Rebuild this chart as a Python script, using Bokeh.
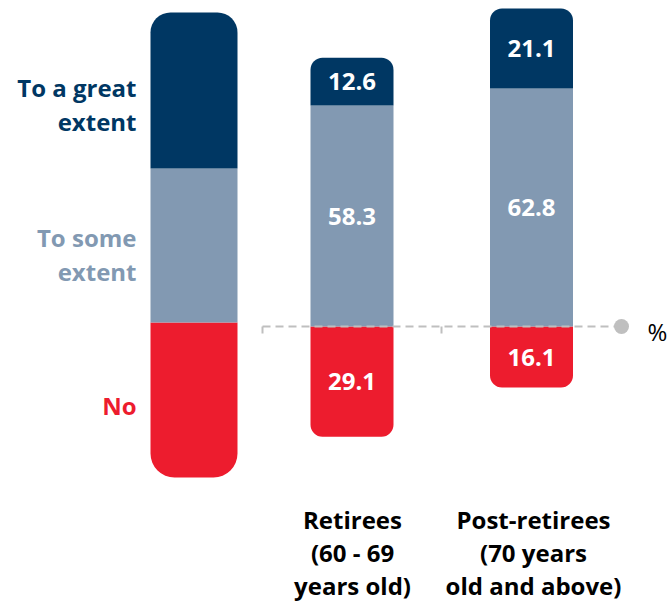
from bokeh.plotting import figure
from bokeh.models import Range1d, ColumnDataSource
from bokeh.core.properties import value
from bokeh.embed import file_html
from bokeh.resources import INLINE

# ---- data ----
categories = ["Retirees\n(60 - 69\nyears old)", "Post-retirees\n(70 years\nold and above)"]
great_extent = [12.6, 21.1]
some_extent = [58.3, 62.8]
no_answer = [29.1, 16.1]
legend_labels = ["To a great\nextent", "To some\nextent", "No"]

NAVY = "#003763"
GREY = "#8299B2"
RED = "#ED1C2E"
FONT = "Open Sans"
FS = "24px"

W, H = 669, 604
BASE_PX = 326.0   # pixel row of the zero line
PX_PER_UNIT = 3.79

def ydata(px):
    return (BASE_PX - px) / PX_PER_UNIT

p = figure(width=W, height=H, output_backend="svg", toolbar_location=None,
           x_range=Range1d(0, W), y_range=Range1d(ydata(H), ydata(0)),
           min_border=0)
p.axis.visible = False
p.grid.visible = False
p.outline_line_color = None
p.background_fill_color = "white"
p.border_fill_color = "white"

# ---- legend bar (decorative) ----
lx, lw = 193.5, 87
lb = [ydata(477), ydata(322), ydata(168), ydata(12)]
p.vbar(x=[lx], width=lw, bottom=[lb[0]], top=[lb[1]], fill_color=RED, line_color=None,
       border_radius=(0, 0, 24, 24))
p.vbar(x=[lx], width=lw, bottom=[lb[1]], top=[lb[2]], fill_color=GREY, line_color=None)
p.vbar(x=[lx], width=lw, bottom=[lb[2]], top=[lb[3]], fill_color=NAVY, line_color=None,
       border_radius=(20, 20, 0, 0))

# legend labels
leg_pos = [(ydata(87), ydata(121)), (ydata(237), ydata(271)), (ydata(405),)]
leg_cols = [NAVY, GREY, RED]
for lab, ys, col in zip(legend_labels, leg_pos, leg_cols):
    for line, yy in zip(lab.split("\n"), ys):
        p.text(x=[136], y=[yy], text=[line], text_color=col, text_font=value(FONT),
               text_font_style="bold", text_font_size=FS, text_align="right",
               text_baseline="middle")

# ---- bars ----
xs = [351.5, 531.0]
bw = 83
neg_bottom = [-v for v in no_answer]
some_top = some_extent
great_top = [a + b for a, b in zip(some_extent, great_extent)]

src = ColumnDataSource(dict(x=xs, nb=neg_bottom, zero=[0, 0], st=some_top, gt=great_top))
p.vbar(x="x", width=bw, bottom="nb", top="zero", source=src, fill_color=RED,
       line_color=None, border_radius=(0, 0, 12, 12))
p.vbar(x="x", width=bw, bottom="zero", top="st", source=src, fill_color=GREY, line_color=None)
p.vbar(x="x", width=bw, bottom="st", top="gt", source=src, fill_color=NAVY,
       line_color=None, border_radius=(12, 12, 0, 0))

# value labels
lab_x, lab_y, lab_t = [], [], []
for i, x in enumerate(xs):
    lab_x += [x, x, x]
    lab_y += [-no_answer[i] / 2, some_extent[i] / 2, some_extent[i] + great_extent[i] / 2]
    lab_t += [f"{no_answer[i]:.1f}", f"{some_extent[i]:.1f}", f"{great_extent[i]:.1f}"]
p.text(x=lab_x, y=lab_y, text=lab_t, text_color="white", text_font=value(FONT),
       text_font_style="bold", text_font_size=FS, text_align="center",
       text_baseline="middle")

# ---- zero line ----
p.segment(x0=[262], y0=[0], x1=[621], y1=[0], line_color="#BFBFBF", line_width=2,
          line_dash="8 5")
p.segment(x0=[262, 441], y0=[0, 0], x1=[262, 441], y1=[ydata(333), ydata(333)],
          line_color="#BFBFBF", line_width=2)
p.scatter(x=[621], y=[0], size=15, fill_color="#BFBFBF", line_color=None)
p.text(x=[657], y=[ydata(331)], text=["%"], text_color="black", text_font=value(FONT),
       text_font_size=FS, text_align="center", text_baseline="middle")

# ---- category labels ----
cat_y = [ydata(519), ydata(552), ydata(585)]
for x, cat in zip([352, 533], categories):
    for line, yy in zip(cat.split("\n"), cat_y):
        p.text(x=[x], y=[yy], text=[line], text_color="black", text_font=value(FONT),
               text_font_style="bold", text_font_size=FS, text_align="center",
               text_baseline="middle")

open("out.html", "w").write(file_html(p, INLINE))
